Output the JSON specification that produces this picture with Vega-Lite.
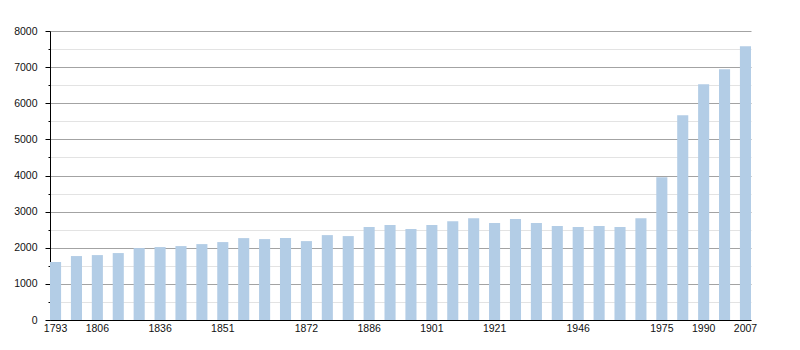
{
  "$schema": "https://vega.github.io/schema/vega-lite/v6.json",
  "autosize": "none",
  "width": 701,
  "height": 289,
  "padding": {"left": 50, "top": 31, "right": 49, "bottom": 30},
  "background": "white",
  "data": {
    "values": [
      {"year": "1793", "population": 1605},
      {"year": "1800", "population": 1770},
      {"year": "1806", "population": 1797},
      {"year": "1821", "population": 1853},
      {"year": "1831", "population": 1991},
      {"year": "1836", "population": 2019},
      {"year": "1841", "population": 2046},
      {"year": "1846", "population": 2101},
      {"year": "1851", "population": 2157},
      {"year": "1856", "population": 2267},
      {"year": "1861", "population": 2240},
      {"year": "1866", "population": 2267},
      {"year": "1872", "population": 2184},
      {"year": "1876", "population": 2350},
      {"year": "1881", "population": 2323},
      {"year": "1886", "population": 2571},
      {"year": "1891", "population": 2627},
      {"year": "1896", "population": 2516},
      {"year": "1901", "population": 2627},
      {"year": "1906", "population": 2737},
      {"year": "1911", "population": 2820},
      {"year": "1921", "population": 2682},
      {"year": "1926", "population": 2793},
      {"year": "1931", "population": 2682},
      {"year": "1936", "population": 2599},
      {"year": "1946", "population": 2572},
      {"year": "1954", "population": 2599},
      {"year": "1962", "population": 2572},
      {"year": "1968", "population": 2820},
      {"year": "1975", "population": 3954},
      {"year": "1982", "population": 5668},
      {"year": "1990", "population": 6526},
      {"year": "1999", "population": 6940},
      {"year": "2007", "population": 7576}
    ]
  },
  "mark": {"type": "bar", "color": "#b3cde6"},
  "encoding": {
    "x": {
      "field": "year",
      "type": "ordinal",
      "sort": null,
      "scale": {"paddingInner": 0.47, "paddingOuter": 0},
      "axis": {
        "title": null,
        "labelAngle": 0,
        "ticks": false,
        "domainColor": "#000000",
        "domainWidth": 1,
        "labelFont": "Liberation Sans",
        "labelFontSize": 10.5,
        "labelColor": "#111111",
        "labelPadding": 3,
        "labelOverlap": false,
        "values": ["1793", "1806", "1836", "1851", "1872", "1886", "1901", "1921", "1946", "1975", "1990", "2007"]
      }
    },
    "y": {
      "field": "population",
      "type": "quantitative",
      "scale": {"domain": [0, 8000], "nice": false},
      "axis": {
        "title": null,
        "values": [0, 500, 1000, 1500, 2000, 2500, 3000, 3500, 4000, 4500, 5000, 5500, 6000, 6500, 7000, 7500, 8000],
        "grid": true,
        "gridColor": {"condition": {"test": "datum.value % 1000 === 0", "value": "#a3a3a3"}, "value": "#e3e3e3"},
        "gridWidth": 1,
        "tickColor": "#000000",
        "tickSize": {"condition": {"test": "datum.value % 1000 === 0", "value": 5}, "value": 2},
        "domainColor": "#000000",
        "labelExpr": "datum.value % 1000 === 0 ? datum.value : ''",
        "labelFont": "Liberation Sans",
        "labelFontSize": 10.5,
        "labelColor": "#111111",
        "labelPadding": 8,
        "labelOverlap": false
      }
    }
  },
  "config": {"view": {"stroke": null}}
}
